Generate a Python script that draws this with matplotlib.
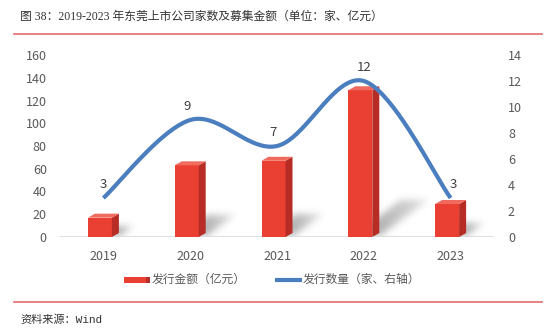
import numpy as np
import matplotlib
matplotlib.use("Agg")
import matplotlib.pyplot as plt
from matplotlib.patches import Polygon, Rectangle
from matplotlib.lines import Line2D
from matplotlib.path import Path

# ---------------- data ----------------
years = ["2019", "2020", "2021", "2022", "2023"]
amount = [17, 63, 67, 129, 29]          # 发行金额（亿元）
count = [3, 9, 7, 12, 3]                # 发行数量（家）
left_ticks = [0, 20, 40, 60, 80, 100, 120, 140, 160]
right_ticks = [0, 2, 4, 6, 8, 10, 12, 14]
title = "图 38：2019-2023 年东莞上市公司家数及募集金额（单位：家、亿元）"
source = "资料来源：Wind"
legend_bar = "发行金额（亿元）"
legend_line = "发行数量（家、右轴）"

# ---------------- styles ----------------
W, H = 554, 331
RED = "#EA4034"
RED_SIDE = "#B72D26"
RED_TOP = "#F06A5E"
BLUE = "#4A7EBF"
GRAY_TXT = "#595959"
RULE = "#E8696B"
CJK = ["Noto Sans CJK SC", "DejaVu Sans"]
SERIF_CJK = ["Liberation Serif", "Noto Sans CJK SC"]

plt.rcParams["font.family"] = CJK

fig = plt.figure(figsize=(W / 100, H / 100), dpi=100)
fig.patch.set_facecolor("white")

def fx(px):
    return px / W

def fy(py):
    return 1 - py / H

# axes area in pixels
ax_l, ax_r, ax_t, ax_b = 60, 494, 55, 237
ax = fig.add_axes([fx(ax_l), fy(ax_b), (ax_r - ax_l) / W, (ax_b - ax_t) / H])
ax.set_xlim(-0.5, len(years) - 0.5)
ax.set_ylim(left_ticks[0], left_ticks[-1])
ax.patch.set_alpha(0)

px_x = (ax_r - ax_l) / len(years)            # pixels per category
px_y = (ax_b - ax_t) / (left_ticks[-1] - left_ticks[0])  # pixels per unit

front_w = 24 / px_x
side_w = 7 / px_x
top_h = 4 / px_y
half = (front_w + side_w) / 2

x = np.arange(len(years))

# ---------- soft shadows (blurred) ----------
nx, ny = int(ax_r - ax_l), int(ax_b - ax_t)
gx = np.linspace(-0.5, len(years) - 0.5, nx)
gy = np.linspace(left_ticks[0], left_ticks[-1], ny)
GX, GY = np.meshgrid(gx, gy)
pts = np.column_stack([GX.ravel(), GY.ravel()])
mask = np.zeros(GX.shape)
for xi, v in zip(x, amount):
    hpx = v * px_y
    L = 0.33 * hpx + 12
    dxp, dyp = 0.8 * L, 0.6 * L
    x0 = xi - half + 4 / px_x
    x1 = xi + half
    poly = [(x0, 0), (x1, 0), (x1 + dxp / px_x, dyp / px_y), (x0 + dxp / px_x, dyp / px_y)]
    inside = Path(poly).contains_points(pts).reshape(GX.shape)
    t = np.clip((GX - x1) * px_x / (dxp + 8), 0, 1)
    mask = np.maximum(mask, inside * (1 - 0.75 * t))
sig = 3.5
k = np.arange(-12, 13)
kern = np.exp(-k ** 2 / (2 * sig ** 2))
kern /= kern.sum()
blur = np.apply_along_axis(lambda r: np.convolve(r, kern, mode="same"), 1, mask)
blur = np.apply_along_axis(lambda c: np.convolve(c, kern, mode="same"), 0, blur)
rgba = np.zeros((ny, nx, 4))
rgba[..., :3] = 0.5
rgba[..., 3] = np.clip(blur * 0.6, 0, 1)
ax.imshow(rgba, extent=(-0.5, len(years) - 0.5, 0, left_ticks[-1]), origin="lower",
          aspect="auto", zorder=1, interpolation="bilinear")

# baseline
ax.axhline(0, color="#D9D9D9", lw=1.2, zorder=2)

# ---------- 3D bars ----------
for xi, v in zip(x, amount):
    fl = xi - half
    fr = fl + front_w
    ax.bar(fl, v, width=front_w, align="edge", color=RED, zorder=3, linewidth=0)
    ax.add_patch(Polygon([(fr, 0), (fr + side_w, top_h), (fr + side_w, v + top_h), (fr, v)],
                         closed=True, facecolor=RED_SIDE, edgecolor="none", zorder=3))
    ax.add_patch(Polygon([(fl, v), (fr, v), (fr + side_w, v + top_h), (fl + side_w, v + top_h)],
                         closed=True, facecolor=RED_TOP, edgecolor="none", zorder=3))

ax.set_yticks(left_ticks)
ax.set_xticks(x)
ax.set_xticklabels(years)
ax.tick_params(axis="y", length=0, pad=9.5, labelsize=9, labelcolor=GRAY_TXT)
ax.tick_params(axis="x", length=0, pad=9, labelsize=9, labelcolor=GRAY_TXT)
for s in ax.spines.values():
    s.set_visible(False)

# ---------- smooth line on right axis ----------
ax2 = ax.twinx()
ax2.set_ylim(right_ticks[0], right_ticks[-1])
ax2.set_yticks(right_ticks)
ax2.tick_params(axis="y", length=0, pad=10, labelsize=9, labelcolor=GRAY_TXT)
for s in ax2.spines.values():
    s.set_visible(False)

P = np.column_stack([x, count]).astype(float)
Pe = np.vstack([P[0], P, P[-1]])
cx, cy = [], []
for i in range(len(P) - 1):
    p0, p1, p2, p3 = Pe[i], Pe[i + 1], Pe[i + 2], Pe[i + 3]
    c1 = p1 + (p2 - p0) / 6
    c2 = p2 - (p3 - p1) / 6
    t = np.linspace(0, 1, 40)[:, None]
    seg = (1 - t) ** 3 * p1 + 3 * (1 - t) ** 2 * t * c1 + 3 * (1 - t) * t ** 2 * c2 + t ** 3 * p2
    cx.extend(seg[:, 0]); cy.extend(seg[:, 1])
ax2.plot(cx, cy, color=BLUE, lw=3.0, solid_capstyle="butt", zorder=5)

label_dx = [0, -3, -4, 0, 3]
for xi, c, d in zip(x, count, label_dx):
    ax2.annotate(str(c), (xi, c), xytext=(d * 0.72, 5), textcoords="offset points",
                 ha="center", va="bottom", fontsize=9.5, color="#404040")

# ---------- legend (manual) ----------
ly = 279.5
fig.add_artist(Rectangle((fx(124), fy(ly + 3)), (22) / W, 6 / H, transform=fig.transFigure,
                         facecolor=RED, edgecolor="none"))
fig.add_artist(Rectangle((fx(146), fy(ly + 3)), (4) / W, 6 / H, transform=fig.transFigure,
                         facecolor=RED_SIDE, edgecolor="none"))
fig.text(fx(152), fy(ly), legend_bar, ha="left", va="center", fontsize=8.5, color=GRAY_TXT)
fig.add_artist(Line2D([fx(275), fx(302)], [fy(ly), fy(ly)], transform=fig.transFigure,
                      color=BLUE, lw=3.0, solid_capstyle="butt"))
fig.text(fx(303), fy(ly), legend_line, ha="left", va="center", fontsize=8.5, color=GRAY_TXT)

# ---------- title, rules, source ----------
fig.text(fx(20), fy(17), title, ha="left", va="center", fontsize=8.5, color="#333333",
         family=SERIF_CJK)
fig.add_artist(Line2D([fx(14), fx(542)], [fy(33.5), fy(33.5)], transform=fig.transFigure,
                      color=RULE, lw=1.2))
fig.add_artist(Line2D([fx(14), fx(542)], [fy(302), fy(302)], transform=fig.transFigure,
                      color=RULE, lw=1.2))
fig.text(fx(20), fy(320), source, ha="left", va="center", fontsize=8, color="#333333",
         family=["Liberation Mono", "Noto Sans CJK SC"])

fig.savefig("out.png", dpi=100)
